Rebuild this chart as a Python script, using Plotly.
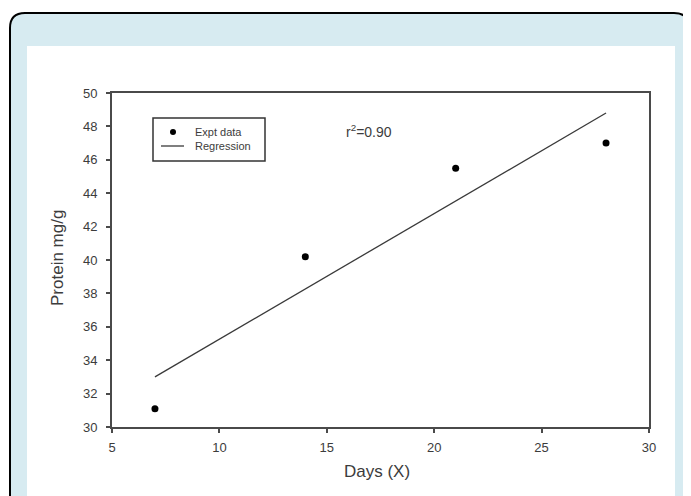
import plotly.graph_objects as go

# Data
days = [7, 14, 21, 28]
protein = [31.1, 40.2, 45.5, 47.0]
reg_days = [7, 28]
reg_protein = [33.0, 48.8]
x_ticks = [5, 10, 15, 20, 25, 30]
y_ticks = [30, 32, 34, 36, 38, 40, 42, 44, 46, 48, 50]

OFF = 8  # page body margin
W, H = 691 - OFF, 496 - OFF
L, R, T, B = 112, 649, 93, 427  # plot area in window pixels


def px(x):
    return (x - L) / (R - L)


def py(y):
    return (B - y) / (B - T)


def rounded_rect(x0, y0, x1, y1, r):
    return (
        f"M {px(x0 + r)},{py(y0)} L {px(x1 - r)},{py(y0)} "
        f"Q {px(x1)},{py(y0)} {px(x1)},{py(y0 + r)} "
        f"L {px(x1)},{py(y1 - r)} Q {px(x1)},{py(y1)} {px(x1 - r)},{py(y1)} "
        f"L {px(x0 + r)},{py(y1)} Q {px(x0)},{py(y1)} {px(x0)},{py(y1 - r)} "
        f"L {px(x0)},{py(y0 + r)} Q {px(x0)},{py(y0)} {px(x0 + r)},{py(y0)} Z"
    )


fig = go.Figure()
fig.add_trace(go.Scatter(x=reg_days, y=reg_protein, mode="lines",
                         line=dict(color="#3a3a3a", width=1.3),
                         name="Regression", showlegend=False))
fig.add_trace(go.Scatter(x=days, y=protein, mode="markers",
                         marker=dict(color="black", size=7),
                         name="Expt data", showlegend=False))

FONT = "Liberation Sans, Arial"
font_c = "#3c3c3c"

shapes = [
    dict(type="path", xref="paper", yref="paper",
         path=rounded_rect(10, 13, 689, 540, 15),
         fillcolor="#d7ebf1", line=dict(color="black", width=2), layer="below"),
    dict(type="rect", xref="paper", yref="paper",
         x0=px(27), x1=px(675), y0=py(46), y1=py(540),
         fillcolor="white", line=dict(width=0), layer="below"),
    dict(type="rect", xref="paper", yref="paper",
         x0=px(153), x1=px(265), y0=py(118), y1=py(161),
         fillcolor="white", line=dict(color="#333", width=1.5)),
    dict(type="line", xref="paper", yref="paper",
         x0=px(161), x1=px(184), y0=py(146), y1=py(146),
         line=dict(color="#3a3a3a", width=1.3)),
    dict(type="circle", xref="paper", yref="paper",
         x0=px(170), x1=px(176), y0=py(129), y1=py(135),
         fillcolor="black", line=dict(width=0)),
]

annotations = [
    dict(xref="paper", yref="paper", x=px(193), y=py(132), text="Expt data",
         showarrow=False, xanchor="left", yanchor="middle",
         font=dict(size=11, color=font_c, family=FONT)),
    dict(xref="paper", yref="paper", x=px(193), y=py(146), text="Regression",
         showarrow=False, xanchor="left", yanchor="middle",
         font=dict(size=11, color=font_c, family=FONT)),
    dict(xref="paper", yref="paper", x=px(344), y=py(131), text="r<sup>2</sup>=0.90",
         showarrow=False, xanchor="left", yanchor="middle",
         font=dict(size=14, color=font_c, family=FONT)),
    dict(xref="paper", yref="paper", x=px(377), y=py(472), text="Days (X)",
         showarrow=False, xanchor="center", yanchor="middle",
         font=dict(size=17, color=font_c, family=FONT)),
    dict(xref="paper", yref="paper", x=px(58), y=py(258), text="Protein mg/g",
         showarrow=False, xanchor="center", yanchor="middle", textangle=-90,
         font=dict(size=17, color=font_c, family=FONT)),
]

axis_common = dict(showgrid=False, zeroline=False, showline=True,
                   linecolor="#4a4a4a", linewidth=2, mirror=True,
                   ticks="outside", ticklen=4, tickwidth=1.5, tickcolor="#4a4a4a",
                   tickfont=dict(size=13, color=font_c, family=FONT))

fig.update_layout(
    width=W, height=H,
    margin=dict(l=L - OFF, r=W - (R - OFF), t=T - OFF, b=H - (B - OFF)),
    paper_bgcolor="white", plot_bgcolor="white",
    shapes=shapes, annotations=annotations,
    showlegend=False,
    xaxis=dict(range=[5, 30], tickvals=x_ticks, ticklabelstandoff=3, **axis_common),
    yaxis=dict(range=[30, 50], tickvals=y_ticks, ticklabelstandoff=6, **axis_common),
)

fig.write_html("out.html")
